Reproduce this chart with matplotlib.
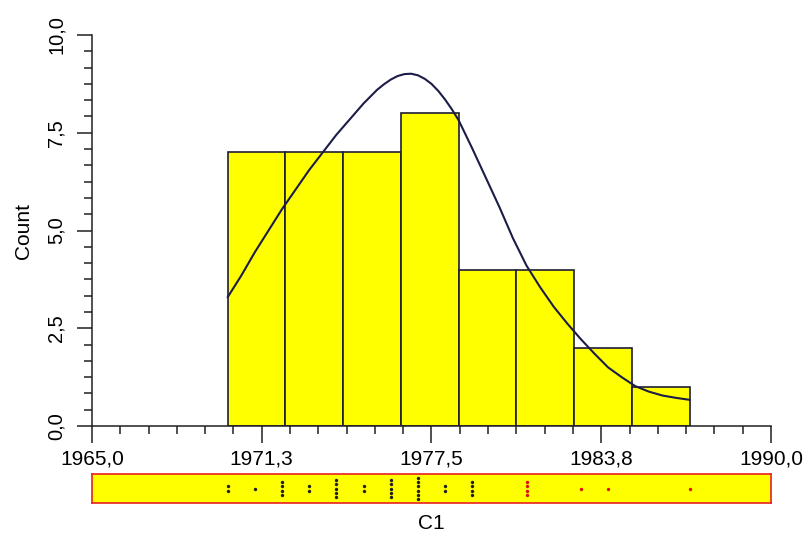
import matplotlib
matplotlib.use("Agg")
import matplotlib.pyplot as plt
import numpy as np

plt.rcParams["font.family"] = ["Liberation Sans", "DejaVu Sans"]

# observed years and how many times each occurs
years = [1970, 1971, 1972, 1973, 1974, 1975, 1976, 1977, 1978, 1979, 1981, 1983, 1984, 1987]
year_counts = [2, 1, 4, 2, 5, 2, 5, 6, 2, 4, 4, 1, 1, 1]
dot_colors = ["#202020"] * 10 + ["#e01010"] * 4

# histogram bins
bin_edges = [1970.0, 1972.125, 1974.25, 1976.375, 1978.5, 1980.625, 1982.75, 1984.875, 1987.0]

# smoothed density curve, scaled to counts
curve_x = [1970.0, 1970.5, 1971.0, 1971.5, 1972.0, 1972.5, 1973.0, 1973.5, 1974.0,
           1974.5, 1975.0, 1975.5, 1975.75, 1976.0, 1976.25, 1976.5, 1976.75, 1977.0,
           1977.25, 1977.5, 1977.75, 1978.0, 1978.25, 1978.5,
           1979.0, 1979.5, 1980.0, 1980.5, 1981.0, 1981.5, 1982.0, 1982.5, 1983.0,
           1983.5, 1984.0, 1984.5, 1985.0, 1985.5, 1986.0, 1986.5, 1987.0]
curve_y = [3.3, 3.85, 4.45, 5.0, 5.55, 6.05, 6.55, 7.0, 7.45,
           7.85, 8.25, 8.6, 8.74, 8.86, 8.95, 9.0, 9.01, 8.97,
           8.88, 8.75, 8.57, 8.35, 8.1, 7.82,
           7.1, 6.35, 5.6, 4.8, 4.1, 3.55, 3.05, 2.62, 2.22,
           1.85, 1.5, 1.25, 1.02, 0.88, 0.78, 0.72, 0.67]

x_ticks = [1965.0, 1971.25, 1977.5, 1983.75, 1990.0]
x_tick_labels = ["1965,0", "1971,3", "1977,5", "1983,8", "1990,0"]
y_ticks = [0.0, 2.5, 5.0, 7.5, 10.0]
y_tick_labels = ["0,0", "2,5", "5,0", "7,5", "10,0"]

data = np.repeat(years, year_counts)
counts, _ = np.histogram(data, bins=bin_edges)

fig = plt.figure(figsize=(8.06, 5.47), dpi=100)
ax = fig.add_axes([0.1141, 0.2212, 0.8425, 0.7148])

ax.bar(bin_edges[:-1], counts, width=np.diff(bin_edges), align="edge",
       color="#ffff00", edgecolor="#1c1c38", linewidth=1.2, zorder=2)
ax.plot(curve_x, curve_y, color="#1c1c48", linewidth=1.5, zorder=3)

ax.set_xlim(1965, 1990)
ax.set_ylim(0, 10)
ax.spines["top"].set_visible(False)
ax.spines["right"].set_visible(False)
for s in ("left", "bottom"):
    ax.spines[s].set_linewidth(1.1)
    ax.spines[s].set_color("#202020")

ax.set_xticks(x_ticks)
ax.set_xticklabels(x_tick_labels, fontsize=15)
ax.set_xticks(np.linspace(1965, 1990, 25), minor=True)
ax.set_yticks(y_ticks)
ax.set_yticklabels(y_tick_labels, fontsize=14.5, rotation=90, va="center")
ax.set_yticks(np.linspace(0, 10, 25), minor=True)
ax.tick_params(axis="x", which="major", length=12, width=1.1, color="#202020", pad=5)
ax.tick_params(axis="y", which="major", length=11, width=1.1, color="#202020", pad=8)
ax.tick_params(axis="both", which="minor", length=6, width=1.1, color="#202020")
ax.set_ylabel("Count", fontsize=15, labelpad=10)

# strip of individual observations under the histogram
sx = fig.add_axes([0.1141, 0.0804, 0.8425, 0.053])
sx.set_xlim(1965, 1990)
sx.set_ylim(0, 1)
sx.set_facecolor("#ffff00")
for s in sx.spines.values():
    s.set_color("#e82020")
    s.set_linewidth(1.2)
sx.set_xticks([])
sx.set_yticks([])
for yr, n, c in zip(years, year_counts, dot_colors):
    ys = 0.5 + (np.arange(n) - (n - 1) / 2) * 0.15
    sx.scatter([yr] * n, ys, s=6, color=c, zorder=3, linewidths=0)
sx.set_xlabel("C1", fontsize=15, labelpad=8)

fig.savefig("out.png", dpi=100)
